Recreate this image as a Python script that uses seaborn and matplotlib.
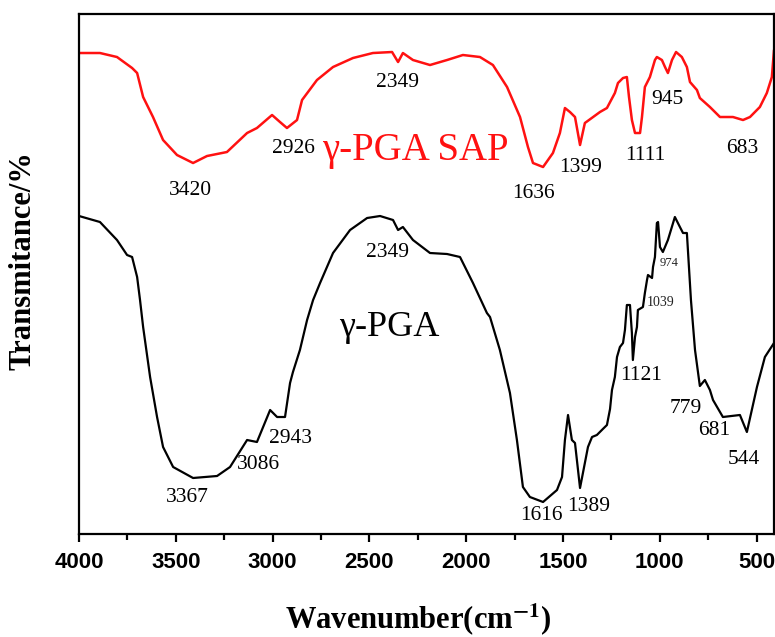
import pandas as pd
import matplotlib
matplotlib.use("Agg")
import matplotlib.pyplot as plt
import seaborn as sns

# red curve, gamma-PGA SAP (wavenumber, relative transmittance)
sap_wn = [4000, 3892, 3804, 3726, 3700, 3669, 3618, 3566, 3494, 3411, 3339, 3236,
          3132, 3081, 3003, 2962, 2926, 2874, 2848, 2771, 2688, 2585, 2482, 2383,
          2352, 2327, 2275, 2187, 2099, 2017, 1929, 1862, 1789, 1722, 1681, 1655,
          1603, 1552, 1516, 1490, 1464, 1438, 1412, 1387, 1309, 1273, 1232, 1216,
          1190, 1170, 1159, 1144, 1128, 1102, 1092, 1077, 1051, 1025, 1015, 989,
          973, 958, 937, 916, 886, 860, 844, 808, 793, 741, 689, 622, 570, 534,
          483, 447, 421, 410]
sap_t = [481, 481, 477, 466, 461, 437, 417, 394, 379, 371, 378, 382,
         401, 406, 419, 412, 406, 414, 434, 454, 467, 476, 481, 482,
         472, 481, 474, 469, 474, 479, 477, 469, 447, 417, 387, 371,
         367, 381, 401, 426, 422, 417, 389, 411, 422, 426, 441, 451,
         456, 457, 437, 414, 401, 401, 417, 447, 457, 474, 477, 474,
         467, 461, 474, 482, 477, 467, 452, 444, 436, 427, 417, 417, 414, 417,
         427, 441, 457, 484]

# black curve, gamma-PGA
pga_wn = [4000, 3892, 3804, 3752, 3726, 3700, 3685, 3669, 3633, 3597, 3566, 3514,
          3411, 3287, 3220, 3132, 3081, 3013, 2977, 2936, 2910, 2895, 2859, 2822,
          2791, 2755, 2688, 2600, 2512, 2445, 2378, 2352, 2327, 2275, 2187, 2099,
          2032, 1965, 1893, 1877, 1826, 1774, 1738, 1707, 1671, 1603, 1531, 1505,
          1490, 1474, 1454, 1438, 1412, 1371, 1350, 1325, 1294, 1273, 1257, 1247,
          1232, 1221, 1206, 1190, 1180, 1170, 1154, 1144, 1139, 1128, 1118, 1113,
          1087, 1077, 1066, 1061, 1040, 1035, 1025, 1015, 1009, 999, 984, 958,
          922, 896, 880, 860, 839, 818, 793, 767, 741, 725, 674, 586, 550, 498,
          457, 410]
pga_t = [318, 312, 294, 279, 277, 257, 234, 207, 157, 117, 87, 67,
         56, 58, 67, 94, 92, 124, 117, 117, 151, 162, 184, 214,
         234, 251, 281, 304, 316, 318, 314, 304, 307, 294, 281, 280,
         277, 251, 221, 217, 184, 141, 94, 47, 37, 32, 44, 57,
         94, 119, 94, 91, 46, 87, 97, 99, 105, 109, 125, 144,
         157, 177, 187, 191, 204, 229, 229, 201, 174, 197, 207, 224,
         227, 241, 254, 259, 256, 267, 277, 311, 312, 287, 282, 294,
         317, 307, 301, 301, 234, 184, 148, 154, 144, 134, 117, 119, 102, 147,
         177, 191]

# peak labels
sap_labels = ["3420", "2926", "2349", "1636", "1399", "1111", "945", "683"]
sap_lab_x = [3427, 2890, 2357, 1655, 1407, 1077, 963, 576]
sap_lab_y = [344, 386, 452, 341, 367, 379, 435, 386]

pga_labels = ["2349", "3367", "3086", "2943", "1616", "1389", "1121", "779", "681", "544"]
pga_lab_x = [2404, 3442, 3075, 2910, 1609, 1366, 1097, 865, 720, 565]
pga_lab_y = [282, 36, 69, 96, 18, 27, 159, 126, 104, 74]

small_labels = ["974", "1039"]
small_lab_x = [953, 994]
small_lab_y = [271, 232]
small_sizes = [9, 10]

sns.set_theme(style="ticks")
plt.rcParams["font.family"] = ["Liberation Serif", "DejaVu Serif"]
plt.rcParams["mathtext.fontset"] = "stix"

fig, ax = plt.subplots(figsize=(7.75, 6.37), dpi=100)
fig.subplots_adjust(left=0.102, right=0.9987, top=0.978, bottom=0.1617)

df_sap = pd.DataFrame({"wn": sap_wn, "t": sap_t})
df_pga = pd.DataFrame({"wn": pga_wn, "t": pga_t})
sns.lineplot(data=df_sap, x="wn", y="t", color="#ff1111", lw=1.8, sort=False, ax=ax)
sns.lineplot(data=df_pga, x="wn", y="t", color="black", lw=1.6, sort=False, ax=ax)

ax.set_xlim(4000, 410)
ax.set_ylim(0, 520)
ax.set_xticks([4000, 3500, 3000, 2500, 2000, 1500, 1000, 500])
ax.set_xticks([3750, 3250, 2750, 2250, 1750, 1250, 750], minor=True)
ax.set_yticks([])
ax.tick_params(axis="x", which="major", direction="out", length=6, width=1.6, pad=7,
               colors="black", labelcolor="black")
ax.tick_params(axis="x", which="minor", direction="out", length=4, width=1.6, colors="black")
for lab in ax.get_xticklabels():
    lab.set_fontfamily(["Liberation Sans", "DejaVu Sans"])
    lab.set_fontweight("bold")
    lab.set_fontsize(16)
for sp in ax.spines.values():
    sp.set_linewidth(1.6)
    sp.set_color("black")

for t, x, y in zip(sap_labels, sap_lab_x, sap_lab_y):
    ax.text(x, y, t, ha="center", va="center", fontsize=15.5, color="black")
for t, x, y in zip(pga_labels, pga_lab_x, pga_lab_y):
    ax.text(x, y, t, ha="center", va="center", fontsize=15.5, color="black")
for t, x, y, s in zip(small_labels, small_lab_x, small_lab_y, small_sizes):
    ax.text(x, y, t, ha="center", va="center", fontsize=s, color="#222222")

ax.text(2265, 384, "γ-PGA SAP", ha="center", va="center", fontsize=28, color="#ff1111")
ax.text(2399, 207, "γ-PGA", ha="center", va="center", fontsize=26, color="black")

ax.set_xlabel("Wavenumber(cm$^{\\mathbf{-1}}$)", fontsize=22, fontweight="bold",
              va="top", color="black")
ax.set_ylabel("Transmitance/%", fontsize=22, fontweight="bold", color="black")
ax.xaxis.set_label_coords(0.488, -0.130)
ax.yaxis.set_label_coords(-0.060, 0.525)

plt.savefig("out.png", dpi=100)
